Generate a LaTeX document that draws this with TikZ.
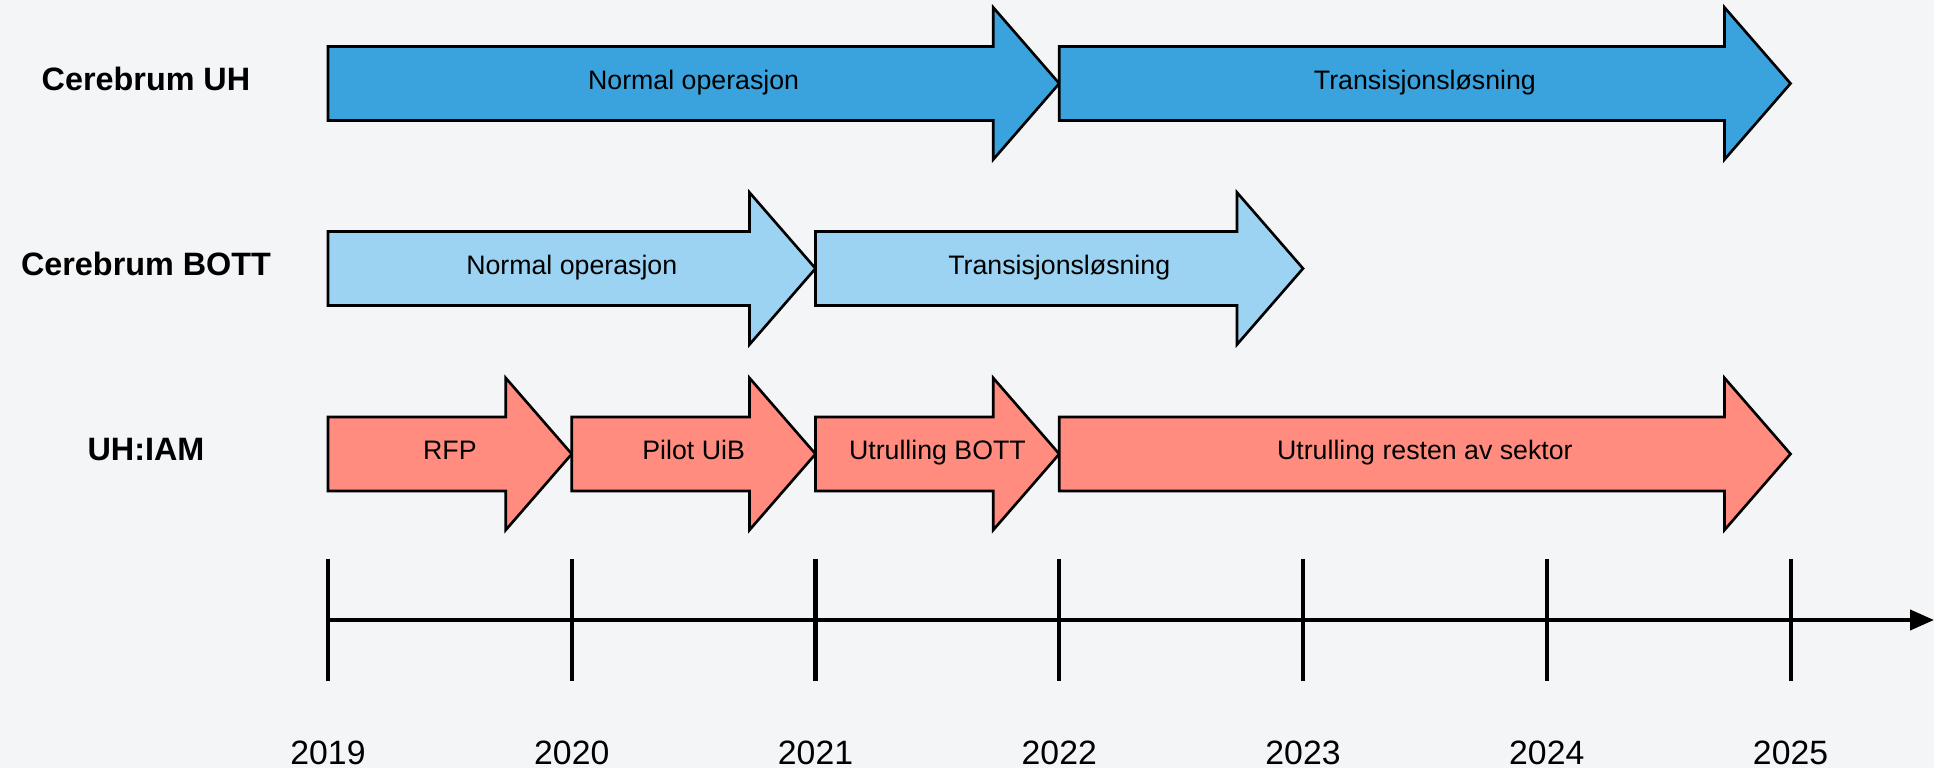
\documentclass[tikz,border=0pt]{standalone}
\usepackage{fontspec}
\setmainfont{Liberation Sans}
\usetikzlibrary{arrows.meta, positioning}
\definecolor{uhblue}{HTML}{3AA3DD}
\definecolor{bottblue}{HTML}{9DD3F2}
\definecolor{iamred}{HTML}{FF8C7F}
\definecolor{bgpanel}{HTML}{F4F5F7}

\begin{document}
\begin{tikzpicture} [x = 0.01cm, y = -0.01cm,
every node/.style = {font = \fontsize{7.6}{9}\selectfont, inner sep = 0pt},
rowlabel/.style = {font = \fontsize{9.2}{11}\selectfont\bfseries, anchor = base},
phase/.style = {draw = black, line width = 0.75pt, line join = miter},
phasetext/.style = {anchor = base},
yearlabel/.style = {font = \fontsize{9.6}{11}\selectfont, anchor = base},
axisline/.style = {line width = 1.15pt}]

\fill [bgpanel] (0,0) rectangle (1934,768);
\useasboundingbox (0,0) rectangle (1934,768);

% row titles
\node (uh)   [rowlabel] at (146,90.5)  {Cerebrum UH};
\node (bott) [rowlabel] at (146,275.5) {Cerebrum BOTT};
\node (iam)  [rowlabel] at (146,461)   {UH:IAM};

% phases: name / row centre / from year / to year / colour / text
\foreach \pname/\row/\ya/\yb/\col/\txt in {
    uhnormal/83.5/0/3/uhblue/Normal operasjon,
    uhtrans/83.5/3/6/uhblue/Transisjonsløsning,
    bottnormal/268.5/0/2/bottblue/Normal operasjon,
    botttrans/268.5/2/4/bottblue/Transisjonsløsning,
    rfp/454/0/1/iamred/RFP,
    pilot/454/1/2/iamred/Pilot UiB,
    utbott/454/2/3/iamred/Utrulling BOTT,
    utrest/454/3/6/iamred/Utrulling resten av sektor} {
  \pgfmathsetmacro\xa{328+243.75*\ya}
  \pgfmathsetmacro\xb{328+243.75*\yb}
  \filldraw [phase, fill = \col] (\xa,\row-37) -- (\xb-66,\row-37) -- (\xb-66,\row-76)
    -- (\xb,\row) -- (\xb-66,\row+76) -- (\xb-66,\row+37) -- (\xa,\row+37) -- cycle;
  \node (\pname) [phasetext] at ({(\xa+\xb)/2},\row+5.8) {\txt};
}

% time axis
\foreach \yr [count=\i from 0] in {2019,...,2025} {
  \pgfmathsetmacro\xt{328+243.75*\i}
  \coordinate (tick\yr a) at (\xt,559);
  \coordinate (tick\yr b) at (\xt,681);
  \draw [axisline] (tick\yr a) -- (tick\yr b);
  \node (year\yr) [yearlabel] at (\xt,765) {\yr};
}
\coordinate (axisstart) at (328,620);
\coordinate (axisend) at (1934,620);
\draw [axisline, -{Triangle[length=0.24cm, width=0.2cm]}] (axisstart) -- (axisend);
\end{tikzpicture}
\end{document}
